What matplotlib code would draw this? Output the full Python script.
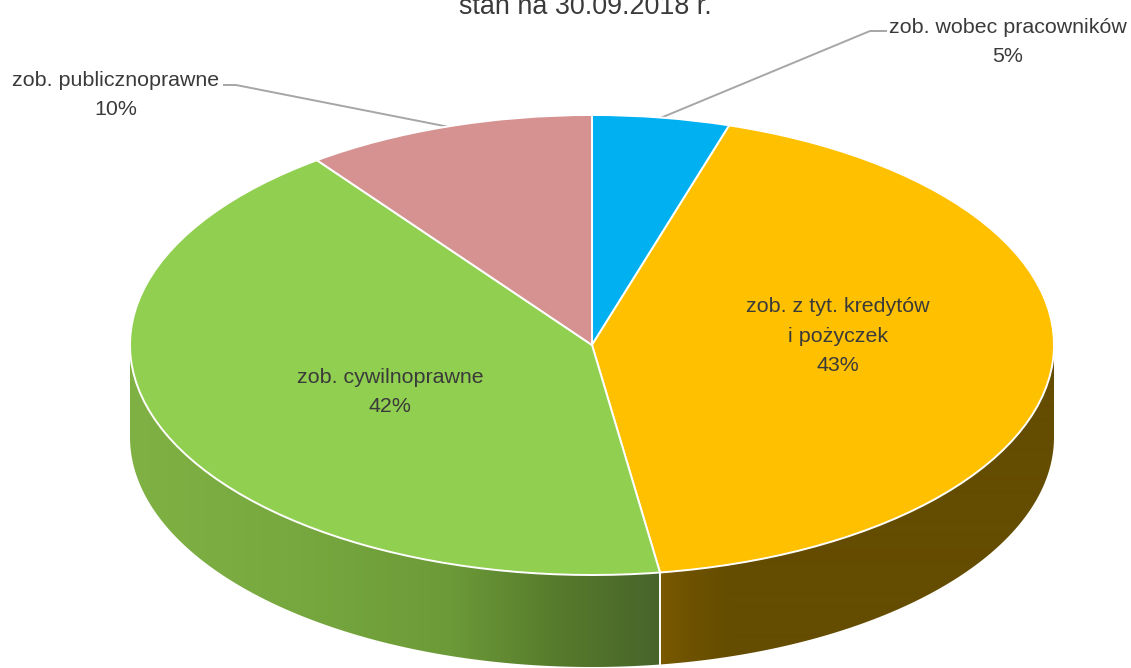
import numpy as np
import matplotlib
matplotlib.use("Agg")
import matplotlib.pyplot as plt
from matplotlib.colors import to_rgb
from matplotlib.patches import Polygon

W, H = 1131, 668
categories = ["zob. wobec pracowników", "zob. z tyt. kredytów\ni pożyczek",
              "zob. cywilnoprawne", "zob. publicznoprawne"]
values = [4.8, 42.85, 42.2, 10.15]
top_colors = ["#00B0F0", "#FFC000", "#90CF50", "#D59291"]
title = "stan na 30.09.2018 r."

CX, CY, RX, RY, DEPTH = 592, 345, 462, 230, 92
TXT = "#3A3A3A"
FONT = ["Liberation Sans", "DejaVu Sans"]

# gradient stops on the side wall: (screen x, colour)
side_grad = {
    1: ([660, 690, 730, 1054], ["#7A5A00", "#6E5200", "#644C00", "#644C00"]),
    2: ([130, 300, 450, 560, 660], ["#7FB144", "#77A83F", "#6C9A38", "#567A2C", "#47652A"]),
}

def X(px):
    return (px - CX) / RX
def Y(py):
    return (CY - py) / RY

fig = plt.figure(figsize=(W / 100, H / 100), dpi=100, facecolor="white")
ax = fig.add_axes([0, 0, 1, 1])

wedges, _ = ax.pie(values, colors=top_colors, startangle=90, counterclock=False,
                   radius=1, center=(0, 0),
                   wedgeprops=dict(edgecolor="white", linewidth=1.4, zorder=3, joinstyle="miter"))

total = sum(values)
edges = np.cumsum([0] + values) / total * 2 * np.pi
depth = DEPTH / RY

# side wall: horizontal gradient image clipped to the visible rim of each slice
for i, (stops, cols) in side_grad.items():
    a0 = max(edges[i], np.pi / 2)
    a1 = min(edges[i + 1], 3 * np.pi / 2)
    a = np.linspace(a0, a1, 300)
    xs, ys = np.sin(a), np.cos(a)
    poly = Polygon(np.c_[np.r_[xs, xs[::-1]], np.r_[ys, ys[::-1] - depth]],
                   closed=True, transform=ax.transData, facecolor="none", edgecolor="none")
    ax.add_patch(poly)
    rgb = np.array([to_rgb(c) for c in cols])
    px = np.arange(stops[0], stops[-1] + 1)
    grad = np.stack([np.interp(px, stops, rgb[:, k]) for k in range(3)], axis=-1)[None, :, :]
    im = ax.imshow(grad, extent=(X(stops[0]), X(stops[-1]), -2, 2), aspect="auto",
                   interpolation="bilinear", zorder=1)
    im.set_clip_path(poly)

ax.set_aspect("auto")
ax.set_xlim(X(0), X(W))
ax.set_ylim(Y(H), Y(0))
ax.axis("off")

# white seam between the yellow and green walls
xe, ye = np.sin(edges[2]), np.cos(edges[2])
ax.plot([xe, xe], [ye, ye - depth], color="white", lw=1.4, zorder=2)

# texts
def label(px, py, s, size=15.4):
    ax.text(X(px), Y(py), s, ha="center", va="center", color=TXT, fontsize=size,
            family=FONT, zorder=5, linespacing=1.68)

label(1008, 42, f"{categories[0]}\n{values[0]:.0f}%")
label(838, 336, f"{categories[1]}\n{values[1]:.0f}%")
label(390, 392, f"{categories[2]}\n{values[2]:.0f}%")
label(116, 95, f"{categories[3]}\n{values[3]:.0f}%")
ax.text(X(585), Y(14), title, ha="center", va="baseline", color=TXT, fontsize=19.4,
        family=FONT, zorder=5)

# leader lines to the slice mid-points on the rim
def rim(i):
    a = (edges[i] + edges[i + 1]) / 2
    return np.sin(a), np.cos(a)

for i, pts in {0: [(886, 31), (870, 31)], 3: [(224, 85), (236, 85)]}.items():
    xr, yr = rim(i)
    ax.plot([X(p[0]) for p in pts] + [xr], [Y(p[1]) for p in pts] + [yr],
            color="#A6A6A6", lw=1.4, zorder=2, solid_joinstyle="round")

fig.savefig("out.png", dpi=100, facecolor="white")
